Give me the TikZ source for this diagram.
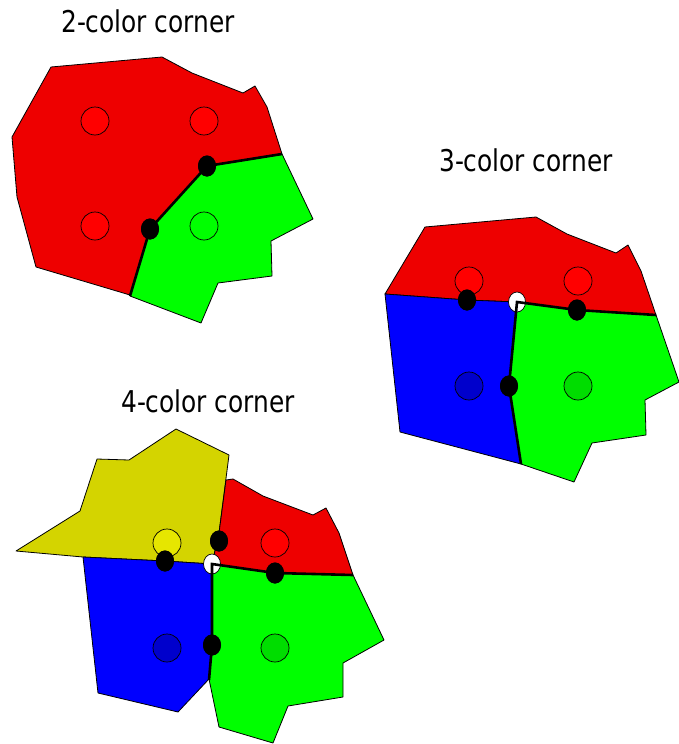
\documentclass[tikz,border=0pt]{standalone}
\usepackage{fontspec}
\usetikzlibrary{shapes.geometric}
\newfontfamily\tfont{DejaVu Sans Condensed}
\definecolor{rreg}{RGB}{238,0,0}
\definecolor{rsite}{RGB}{255,0,0}
\definecolor{greg}{RGB}{0,255,0}
\definecolor{gsite}{RGB}{0,221,0}
\definecolor{breg}{RGB}{0,0,255}
\definecolor{bsite}{RGB}{0,0,204}
\definecolor{yreg}{RGB}{212,212,0}
\definecolor{ysite}{RGB}{230,230,0}
\begin{document}
\begin{tikzpicture}[x=1pt,y=-1pt,
  region/.style={draw=black,line width=0.8pt,line join=round},
  bnd/.style={draw=black,line width=2.6pt,line join=miter},
  site/.style={circle,draw=black,line width=0.7pt,minimum size=28pt,inner sep=0pt},
  vtx/.style={ellipse,fill=black,minimum width=18pt,minimum height=21pt,inner sep=0pt},
  wvtx/.style={ellipse,fill=white,draw=black,line width=0.7pt,minimum width=17pt,minimum height=20pt,inner sep=0pt},
  title/.style={font=\tfont\fontsize{30}{32}\selectfont,inner sep=0pt}]
\useasboundingbox (0,0) rectangle (678,744);

% ---------- 2-color corner ----------
\node[title] (t1) at (148,21) {\scalebox{0.92}[1]{2-color corner}};
\fill[rreg,region] (51,67) -- (162,57) -- (192,73) -- (243,93) -- (255,86) -- (267,107) -- (282,154)
  -- (207,166) -- (150,229) -- (130,295) -- (36,267) -- (17,197) -- (12,137) -- cycle;
\fill[greg,region] (282,154) -- (313,219) -- (271,241) -- (272,276) -- (218,283) -- (201,323)
  -- (130,296) -- (150,229) -- (207,166) -- cycle;
\node[site,fill=rsite] (a1) at (95,121) {};
\node[site,fill=rsite] (a2) at (204,121) {};
\node[site,fill=rsite] (a3) at (95,226) {};
\node[site,fill=greg] (a4) at (204,226) {};
\coordinate (ae1) at (282,154);
\coordinate (ae2) at (130,296);
\node[vtx] (av1) at (207,166) {};
\node[vtx] (av2) at (150,229) {};
\draw[bnd] (ae1) -- (av1.center) -- (av2.center) -- (ae2);
\node[vtx] at (av1) {};
\node[vtx] at (av2) {};

% ---------- 3-color corner ----------
\node[title] (t2) at (526,160) {\scalebox{0.92}[1]{3-color corner}};
\fill[rreg,region] (385,294) -- (425,227) -- (536,217) -- (567,234) -- (616,253) -- (628,245) -- (641,271)
  -- (656,315) -- (577,310) -- (517,302) -- (467,300) -- cycle;
\fill[breg,region] (385,294) -- (467,300) -- (517,302) -- (509,386) -- (521,464) -- (400,432) -- cycle;
\fill[greg,region] (517,302) -- (577,310) -- (656,315) -- (679,382) -- (645,400) -- (646,435)
  -- (592,443) -- (574,482) -- (521,464) -- (509,386) -- cycle;
\node[site,fill=rsite] (b1) at (469,281) {};
\node[site,fill=rsite] (b2) at (578,281) {};
\node[site,fill=bsite] (b3) at (469,386) {};
\node[site,fill=gsite] (b4) at (578,386) {};
\coordinate (be1) at (656,315);
\coordinate (be2) at (521,464);
\node[vtx] (bv1) at (467,300) {};
\node[vtx] (bv2) at (577,310) {};
\node[vtx] (bv3) at (509,386) {};
\node[wvtx] (bw) at (517,302) {};
\draw[bnd] (be1) -- (bv2.center) -- (bw.center) -- (bv3.center) -- (be2);
\node[vtx] at (bv1) {};
\node[vtx] at (bv2) {};
\node[vtx] at (bv3) {};

% ---------- 4-color corner ----------
\node[title] (t3) at (208,401) {\scalebox{0.92}[1]{4-color corner}};
\fill[yreg,region] (16,551) -- (80,511) -- (97,459) -- (129,460) -- (176,429) -- (229,455) -- (219,533)
  -- (212,564) -- (165,561) -- (83,557) -- cycle;
\fill[rreg,region] (226,480) -- (233,479) -- (263,496) -- (313,515) -- (326,508) -- (339,533) -- (353,575)
  -- (275,573) -- (212,564) -- (219,533) -- cycle;
\fill[breg,region] (83,557) -- (165,561) -- (212,564) -- (212,645) -- (209,679) -- (178,712) -- (98,693) -- cycle;
\fill[greg,region] (212,564) -- (275,573) -- (353,575) -- (384,640) -- (343,663) -- (343,697) -- (288,706)
  -- (273,743) -- (219,727) -- (209,679) -- (212,645) -- cycle;
\node[site,fill=ysite] (c1) at (167,543) {};
\node[site,fill=rsite] (c2) at (275,543) {};
\node[site,fill=bsite] (c3) at (167,648) {};
\node[site,fill=gsite] (c4) at (275,648) {};
\coordinate (ce1) at (353,575);
\coordinate (ce2) at (209,680);
\node[vtx] (cv1) at (219,541) {};
\node[vtx] (cv2) at (165,561) {};
\node[vtx] (cv3) at (275,573) {};
\node[vtx] (cv4) at (212,645) {};
\node[wvtx] (cw) at (212,564) {};
\draw[bnd] (ce1) -- (cv3.center) -- (cw.center) -- (cv4.center) -- (ce2);
\node[vtx] at (cv1) {};
\node[vtx] at (cv2) {};
\node[vtx] at (cv3) {};
\node[vtx] at (cv4) {};
\end{tikzpicture}
\end{document}
